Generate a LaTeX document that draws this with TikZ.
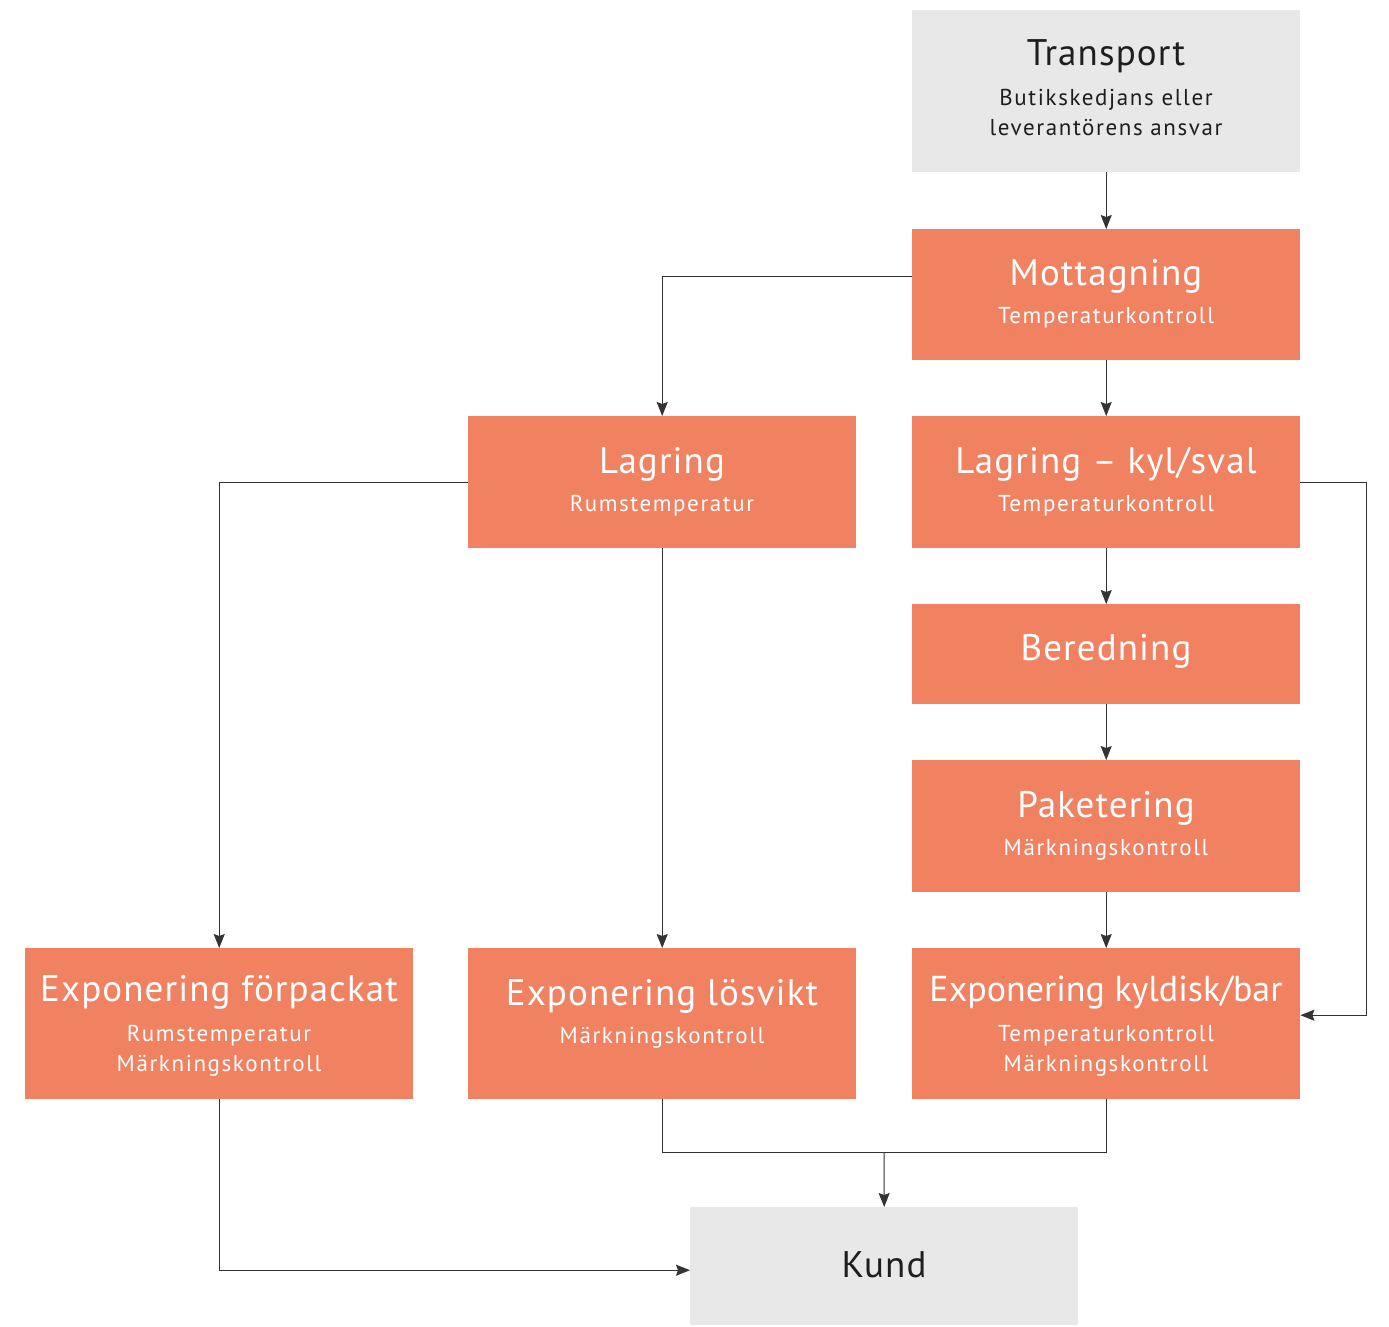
\documentclass[tikz,border=0pt]{standalone}
\usepackage{fontspec}
\setmainfont{PT Sans}
\newfontfamily\headfont[LetterSpace=3]{PT Sans}
\newfontfamily\tightheadfont{PT Sans}
\newfontfamily\notefont[LetterSpace=7]{PT Sans}
\usetikzlibrary{arrows.meta,calc}
\definecolor{boxorange}{HTML}{F08262}
\definecolor{boxgray}{HTML}{E8E8E8}
\definecolor{inkdark}{HTML}{1E1E1E}
\definecolor{wire}{HTML}{333333}
\begin{document}
\begin{tikzpicture}[x=1pt,y=-1pt,
  stage/.style={fill=boxorange,draw=none,inner sep=0pt,anchor=north west,minimum width=388pt},
  ext/.style={fill=boxgray,draw=none,inner sep=0pt,anchor=north west,minimum width=388pt},
  ttl/.style={anchor=base,inner sep=0pt,font=\headfont\fontsize{37}{40}\selectfont},
  sub/.style={anchor=base,inner sep=0pt,font=\notefont\fontsize{23}{26}\selectfont},
  line/.style={draw=wire,line width=1pt},
  conn/.style={line,-{Stealth[length=14pt,width=11pt,inset=2pt]}}]
\useasboundingbox (0,0) rectangle (1389,1326);

% boxes
\node[ext,minimum height=162pt] (transp) at (912,10) {};
\node[stage,minimum height=131pt] (mott) at (912,229) {};
\node[stage,minimum height=132pt] (lag) at (468,416) {};
\node[stage,minimum height=132pt] (lagk) at (912,416) {};
\node[stage,minimum height=100pt] (bered) at (912,604) {};
\node[stage,minimum height=132pt] (paket) at (912,760) {};
\node[stage,minimum height=151pt] (expf) at (25,948) {};
\node[stage,minimum height=151pt] (expl) at (468,948) {};
\node[stage,minimum height=151pt] (expk) at (912,948) {};
\node[ext,minimum height=118pt] (kund) at (690,1207) {};

% texts
\node[ttl,text=inkdark] (transpT) at (1106,65) {Transport};
\node[sub,text=inkdark] (transpS1) at (1106,105) {Butikskedjans eller};
\node[sub,text=inkdark] (transpS2) at (1106,135) {leverantörens ansvar};

\node[ttl,text=white] (mottT) at (1106,285) {Mottagning};
\node[sub,text=white] (mottS) at (1106,323) {Temperaturkontroll};

\node[ttl,text=white] (lagT) at (662,473) {Lagring};
\node[sub,text=white] (lagS) at (662,511) {Rumstemperatur};

\node[ttl,text=white] (lagkT) at (1106,473) {Lagring – kyl/sval};
\node[sub,text=white] (lagkS) at (1106,511) {Temperaturkontroll};

\node[ttl,text=white] (beredT) at (1106,660) {Beredning};

\node[ttl,text=white] (paketT) at (1106,817) {Paketering};
\node[sub,text=white] (paketS) at (1106,855) {Märkningskontroll};

\node[ttl,text=white] (expfT) at (219,1001) {Exponering förpackat};
\node[sub,text=white] (expfS1) at (219,1041) {Rumstemperatur};
\node[sub,text=white] (expfS2) at (219,1071) {Märkningskontroll};

\node[ttl,text=white] (explT) at (662,1005) {Exponering lösvikt};
\node[sub,text=white] (explS) at (662,1043) {Märkningskontroll};

\node[ttl,text=white,font=\tightheadfont\fontsize{36}{40}\selectfont] (expkT) at (1106,1001) {Exponering kyldisk/bar};
\node[sub,text=white] (expkS1) at (1106,1041) {Temperaturkontroll};
\node[sub,text=white] (expkS2) at (1106,1071) {Märkningskontroll};

\node[ttl,text=inkdark] (kundT) at (884,1277) {Kund};

% connectors
\coordinate (mottW) at ([yshift=18.5pt]mott.west);
\coordinate (expkE) at ([yshift=8.5pt]expk.east);
\coordinate (kundW) at ([yshift=-4pt]kund.west);
\coordinate (rail) at (1366,0);
\coordinate (join) at (884,1152);

\draw[conn] (transp.south) -- (mott.north);
\draw[conn] (mottW) -| (lag.north);
\draw[conn] (mott.south) -- (lagk.north);
\draw[conn] (lag.west) -| (expf.north);
\draw[conn] (lag.south) -- (expl.north);
\draw[conn] (lagk.east) -- (lagk.east -| rail) -- (rail |- expkE) -- (expkE);
\draw[conn] (lagk.south) -- (bered.north);
\draw[conn] (bered.south) -- (paket.north);
\draw[conn] (paket.south) -- (expk.north);
\draw[line] (expl.south) |- (join) -| (expk.south);
\draw[conn] (join) -- (kund.north);
\draw[conn] (expf.south) |- (kundW);
\end{tikzpicture}
\end{document}
